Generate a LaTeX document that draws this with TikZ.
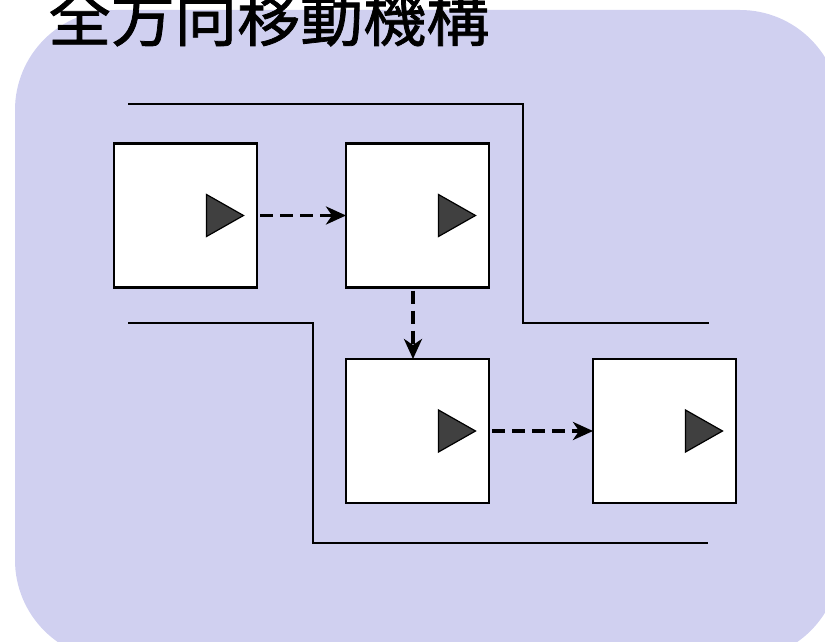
\documentclass[tikz,border=0pt]{standalone}
\usepackage{fontspec}
\newfontfamily\cjk[FakeBold=1.2]{Noto Sans CJK JP}
\usetikzlibrary{arrows.meta,calc}
\definecolor{bgpanel}{RGB}{208,208,240}
\definecolor{tridark}{RGB}{64,64,64}
\begin{document}
\begin{tikzpicture}[x=1pt,y=-1pt,
  cellbox/.style={draw=black,line width=2.4pt,fill=white,minimum width=143pt,minimum height=144pt,inner sep=0pt,outer sep=0pt},
  marker/.style={draw=black,line width=1.2pt,fill=tridark},
  wall/.style={draw=black,line width=2.2pt},
  flow/.style={line width=3.6pt,dash pattern=on 13pt off 7pt,-{Stealth[length=20pt,width=18pt,inset=6pt]}},
  titletext/.style={anchor=base west,inner sep=0pt,font=\cjk\fontsize{63}{70}\selectfont}]
\useasboundingbox (0,0) rectangle (825,642);
\fill[bgpanel,rounded corners=100pt] (15,10) rectangle (840,660);
\node[titletext] (title) at (48,41) {全方向移動機構};
% walls
\draw[wall] (128,104) -- (523,104) -- (523,323) -- (709,323);
\draw[wall] (128,323) -- (313,323) -- (313,543) -- (708,543);
% boxes
\node[cellbox] (b1) at (185.5,215.5) {};
\node[cellbox] (b2) at (417.5,215.5) {};
\node[cellbox] (b3) at (417.5,431) {};
\node[cellbox] (b4) at (664.5,431) {};
\foreach \b in {b1,b2,b3,b4}{
  \draw[marker] ($(\b.center)+(21,-21)$) -- ($(\b.center)+(58,0)$) -- ($(\b.center)+(21,21)$) -- cycle;
}
% connectors
\draw[flow,shorten <=3pt] (b1.east) -- (b2.west);
\draw[flow,shorten <=3pt] ([xshift=-4.5pt]b2.south) -- ([xshift=-4.5pt]b3.north);
\draw[flow,shorten <=3pt] (b3.east) -- (b4.west);
\end{tikzpicture}
\end{document}
